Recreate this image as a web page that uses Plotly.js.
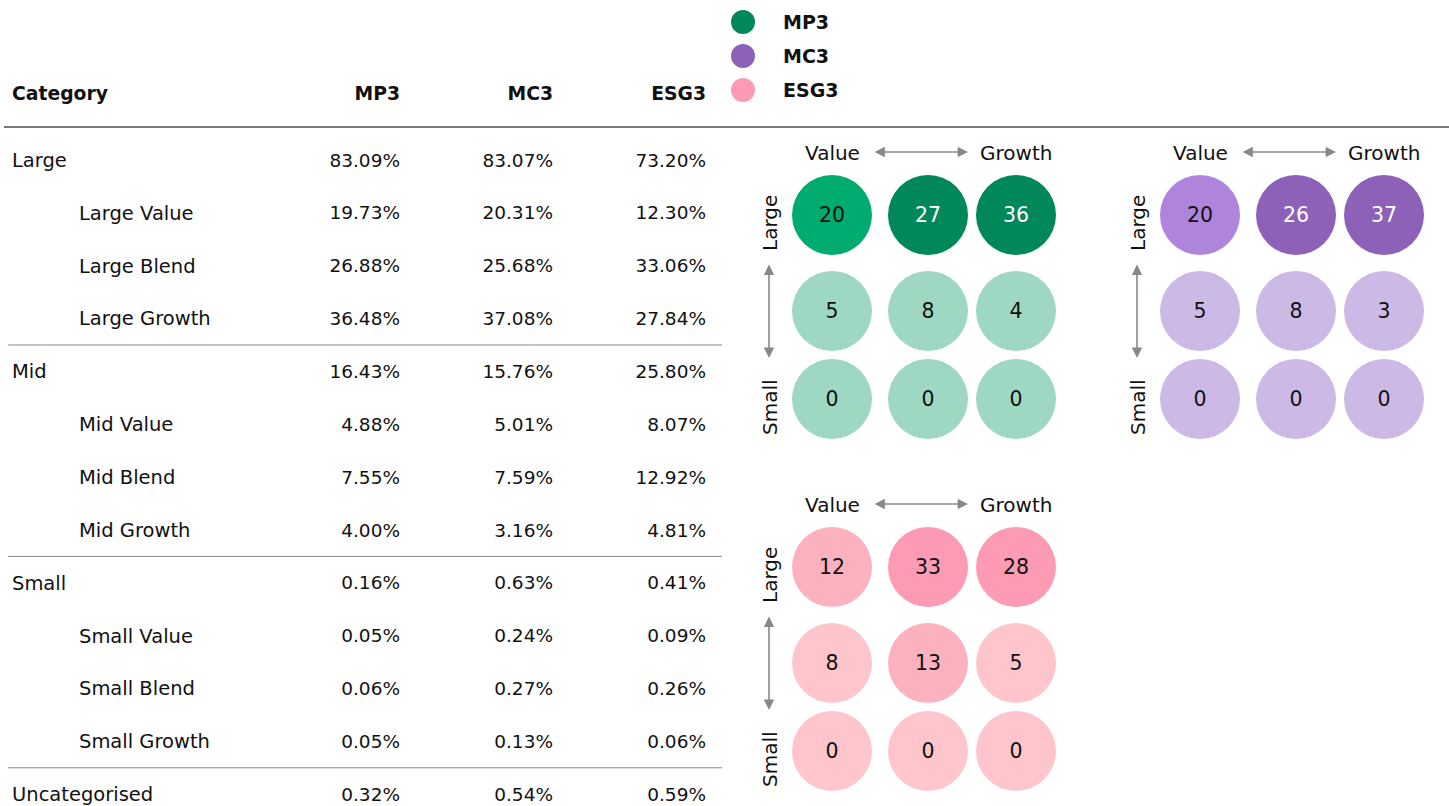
<!DOCTYPE html>
<html>
<head>
<meta charset="utf-8">
<script src="https://cdn.plot.ly/plotly-3.0.1.min.js"></script>
<style>html,body{margin:0;padding:0;background:#fff;}#chart{width:1449px;height:806px;}</style>
</head>
<body>
<div id="chart"></div>
<script>
// ---------- DATA ----------
var categories = ["Large","Large Value","Large Blend","Large Growth",
                  "Mid","Mid Value","Mid Blend","Mid Growth",
                  "Small","Small Value","Small Blend","Small Growth",
                  "Uncategorised"];
var levels = [0,1,1,1, 0,1,1,1, 0,1,1,1, 0];
var seriesNames = ["MP3","MC3","ESG3"];
var mp3  = [83.09,19.73,26.88,36.48,16.43,4.88,7.55,4.00,0.16,0.05,0.06,0.05,0.32];
var mc3  = [83.07,20.31,25.68,37.08,15.76,5.01,7.59,3.16,0.63,0.24,0.27,0.13,0.54];
var esg3 = [73.20,12.30,33.06,27.84,25.80,8.07,12.92,4.81,0.41,0.09,0.26,0.06,0.59];
var sizeLabels = ["Large","Mid","Small"];
var styleLabels = ["Value","Blend","Growth"];
var headerLabels = ["Category","MP3","MC3","ESG3"];

// ---------- STYLE / LAYOUT ----------
var FONT = "DejaVu Sans";
var W = 1449, H = 806;
var ink = "#111111";
var palettes = {
  MP3:  {dark:"#00875A", mid:"#00AB6F", light:"#9ED8C2", darkText:"#ffffff"},
  MC3:  {dark:"#8E61B9", mid:"#AF84DD", light:"#CCB9E6", darkText:"#ffffff"},
  ESG3: {dark:"#FC9BB3", mid:"#FBB1BE", light:"#FEC6CC", darkText:"#111111"}
};
var colRight = [400, 553, 706];
var labelX = [12, 79];
var headerY = 93, row0Y = 160, rowStep = 52.85;
var tOff = 2; // text baseline nudge
var gridOrigins = [{x:832,y:215},{x:1200,y:215},{x:832,y:567}];
var cellOff = [0, 96, 184];
var circleD = 80;

var seriesData = [mp3, mc3, esg3];
var traces = [];
var rowY = categories.map(function(c,i){ return row0Y + i*rowStep; });

// table labels
traces.push({
  type:"scatter", mode:"text", hoverinfo:"skip",
  x: categories.map(function(c,i){ return labelX[levels[i]]; }),
  y: rowY.map(function(y){return y+tOff;}), text: categories, textposition:"middle right",
  textfont:{family:FONT, size:19.5, color:ink}
});
// table values
seriesData.forEach(function(arr, s){
  traces.push({
    type:"scatter", mode:"text", hoverinfo:"skip",
    x: arr.map(function(){ return colRight[s]; }),
    y: rowY.map(function(y){return y+tOff;}),
    text: arr.map(function(v){ return v.toFixed(2) + "%"; }),
    textposition:"middle left",
    textfont:{family:FONT, size:18.5, color:ink}
  });
});
// header
traces.push({
  type:"scatter", mode:"text", hoverinfo:"skip",
  x:[labelX[0]], y:[headerY+tOff], text:["<b>"+headerLabels[0]+"</b>"],
  textposition:"middle right", textfont:{family:FONT, size:18.8, color:ink}
});
traces.push({
  type:"scatter", mode:"text", hoverinfo:"skip",
  x: colRight, y: colRight.map(function(){return headerY+tOff;}),
  text: headerLabels.slice(1).map(function(t){return "<b>"+t+"</b>";}),
  textposition:"middle left", textfont:{family:FONT, size:18.8, color:ink}
});

// legend
var legX = 743, legY0 = 22, legStep = 34;
traces.push({
  type:"scatter", mode:"markers", hoverinfo:"skip",
  x: seriesNames.map(function(){return legX;}),
  y: seriesNames.map(function(n,i){return legY0 + i*legStep;}),
  marker:{size:24, color: seriesNames.map(function(n){return palettes[n].dark;})}
});
traces.push({
  type:"scatter", mode:"text", hoverinfo:"skip",
  x: seriesNames.map(function(){return legX+40;}),
  y: seriesNames.map(function(n,i){return legY0 + i*legStep + tOff;}),
  text: seriesNames.map(function(n){return "<b>"+n+"</b>";}),
  textposition:"middle right", textfont:{family:FONT, size:19, color:ink}
});

// style-box grids
function bin(v){ return v > 25 ? "dark" : (v > 10 ? "mid" : "light"); }
var annotations = [];
seriesNames.forEach(function(name, s){
  var arr = seriesData[s], pal = palettes[name], o = gridOrigins[s];
  var xs=[], ys=[], txt=[], cols=[], tcols=[];
  sizeLabels.forEach(function(sz, r){
    styleLabels.forEach(function(st, c){
      var idx = categories.indexOf(sz + " " + st);
      var v = Math.round(arr[idx]);
      var b = bin(arr[idx]);
      xs.push(o.x + cellOff[c]); ys.push(o.y + cellOff[r]);
      txt.push(String(v)); cols.push(pal[b]);
      tcols.push(b === "dark" ? pal.darkText : ink);
    });
  });
  traces.push({
    type:"scatter", mode:"markers", hoverinfo:"skip",
    x:xs, y:ys,
    marker:{size:circleD, color:cols, line:{width:0}}
  });
  traces.push({
    type:"scatter", mode:"text", hoverinfo:"skip",
    x:xs, y:ys.map(function(y){return y+tOff;}), text:txt, textposition:"middle center",
    textfont:{family:FONT, size:20.5, color:tcols}
  });
  // axis labels
  var hy = o.y - 64 + tOff;
  annotations.push({x:o.x+cellOff[0], y:hy, xref:"x", yref:"y", text:styleLabels[0], showarrow:false,
    font:{family:FONT, size:20, color:ink}, xanchor:"center", yanchor:"middle"});
  annotations.push({x:o.x+cellOff[2], y:hy, xref:"x", yref:"y", text:styleLabels[2], showarrow:false,
    font:{family:FONT, size:20, color:ink}, xanchor:"center", yanchor:"middle"});
  annotations.push({x:o.x+136, y:o.y-63, ax:o.x+41, ay:o.y-63, xref:"x", yref:"y", axref:"x", ayref:"y",
    text:"", showarrow:true, arrowside:"end+start", arrowhead:2, startarrowhead:2,
    arrowsize:1.3, startarrowsize:1.3, arrowwidth:1.6, arrowcolor:"#888888"});
  var vx = o.x - 62;
  annotations.push({x:vx, y:o.y+cellOff[0]+8, xref:"x", yref:"y", text:sizeLabels[0], showarrow:false,
    textangle:-90, font:{family:FONT, size:20, color:ink}, xanchor:"center", yanchor:"middle"});
  annotations.push({x:vx, y:o.y+cellOff[2]+8, xref:"x", yref:"y", text:sizeLabels[2], showarrow:false,
    textangle:-90, font:{family:FONT, size:20, color:ink}, xanchor:"center", yanchor:"middle"});
  annotations.push({x:vx-1, y:o.y+143, ax:vx-1, ay:o.y+48, xref:"x", yref:"y", axref:"x", ayref:"y",
    text:"", showarrow:true, arrowside:"end+start", arrowhead:2, startarrowhead:2,
    arrowsize:1.3, startarrowsize:1.3, arrowwidth:1.6, arrowcolor:"#888888"});
});

// separator lines
var shapes = [{type:"line", xref:"x", yref:"y", x0:4, x1:W, y0:127, y1:127,
               line:{color:"#7a7a7a", width:2}}];
for (var i=1;i<categories.length;i++){
  if (levels[i]===0){
    var ly = (rowY[i-1]+rowY[i])/2;
    shapes.push({type:"line", xref:"x", yref:"y", x0:8, x1:722, y0:ly, y1:ly,
                 line:{color:"#8a8a8a", width:1}});
  }
}

var layout = {
  width:W, height:H, margin:{l:0,r:0,t:0,b:0},
  paper_bgcolor:"#ffffff", plot_bgcolor:"#ffffff",
  showlegend:false, hovermode:false,
  xaxis:{range:[0,W], visible:false, fixedrange:true},
  yaxis:{range:[H,0], visible:false, fixedrange:true},
  shapes:shapes, annotations:annotations,
  font:{family:FONT, color:ink}
};
traces.forEach(function(t){ t.showlegend=false; t.cliponaxis=false; });
Plotly.newPlot("chart", traces, layout, {displayModeBar:false, staticPlot:true});
</script>
</body>
</html>
